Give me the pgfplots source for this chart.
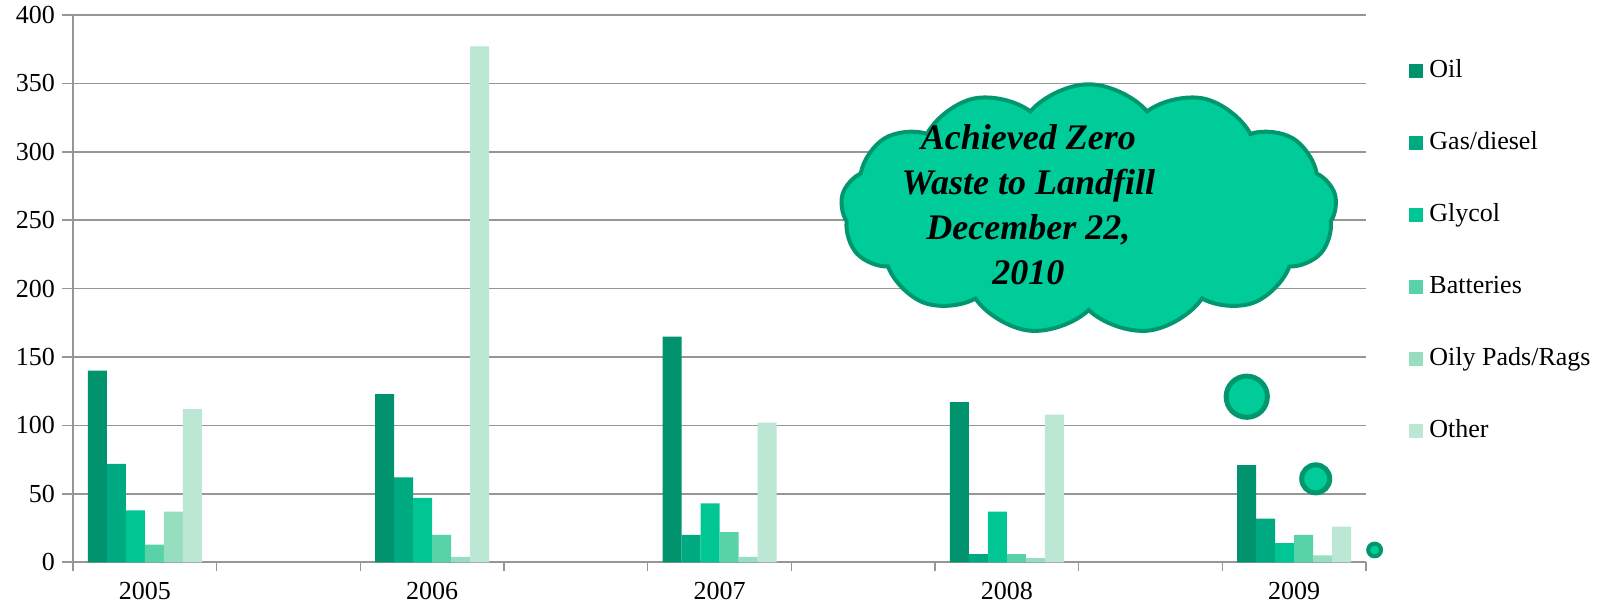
\documentclass[border=0pt]{standalone}
\usepackage{fontspec}
\setmainfont{Liberation Serif}
\usepackage{pgfplots}
\pgfplotsset{compat=1.18}
\usetikzlibrary{shapes.symbols}
\definecolor{cOil}{RGB}{0,147,110}
\definecolor{cGas}{RGB}{0,170,128}
\definecolor{cGly}{RGB}{0,198,147}
\definecolor{cBat}{RGB}{87,211,167}
\definecolor{cOily}{RGB}{150,222,192}
\definecolor{cOther}{RGB}{187,231,212}
\definecolor{cloudFill}{RGB}{0,204,153}
\definecolor{cloudEdge}{RGB}{0,150,110}
\definecolor{gridgray}{RGB}{150,150,150}
\begin{document}
\begin{tikzpicture}
\begin{axis}[
  at={(0,0)}, anchor=south west,
  scale only axis, width=646.5pt, height=273.65pt,
  xmin=-0.5, xmax=8.5, ymin=0, ymax=400,
  ytick={0,50,...,400},
  xtick={0,2,4,6,8},
  xticklabels={2005,2006,2007,2008,2009},
  minor xtick={-0.5,0.5,...,8.5},
  major x tick style={draw=none},
  minor x tick style={draw=gridgray, line width=0.8pt},
  minor tick length=4.5pt,
  xticklabel style={yshift=-0.7pt},
  axis x line*=bottom, axis y line*=left,
  axis line style={draw=gridgray, line width=0.8pt, -},
  ymajorgrids, grid style={draw=gridgray, line width=0.8pt},
  tick style={draw=gridgray, line width=0.8pt},
  tick align=outside, major tick length=5.5pt,
  /pgf/number format/assume math mode=true,
  ticklabel style={font=\rmfamily\fontsize{13}{15}\selectfont},
  ybar, bar width=9.5pt,
  clip=false,
  legend cell align=left,
  legend image code/.code={\fill[#1, draw=none] (0pt,-3.5pt) rectangle (7pt,3.5pt);},
  legend style={at={(1.0333,0.92)}, anchor=north west, draw=none, fill=none,
    font=\rmfamily\fontsize{13}{15}\selectfont, row sep=24pt, column sep=3pt, inner sep=0pt,
    nodes={inner sep=0pt, text height=9pt, text depth=3pt}},
]
\addplot[fill=cOil, draw=none, bar shift=-23.75pt] coordinates {(0,140) (2,123) (4,165) (6,117) (8,71)};
\addlegendentry{Oil}
\addplot[fill=cGas, draw=none, bar shift=-14.25pt] coordinates {(0,72) (2,62) (4,20) (6,6) (8,32)};
\addlegendentry{Gas/diesel}
\addplot[fill=cGly, draw=none, bar shift=-4.75pt] coordinates {(0,38) (2,47) (4,43) (6,37) (8,14)};
\addlegendentry{Glycol}
\addplot[fill=cBat, draw=none, bar shift=4.75pt] coordinates {(0,13) (2,20) (4,22) (6,6) (8,20)};
\addlegendentry{Batteries}
\addplot[fill=cOily, draw=none, bar shift=14.25pt] coordinates {(0,37) (2,4) (4,4) (6,3) (8,5)};
\addlegendentry{Oily Pads/Rags}
\addplot[fill=cOther, draw=none, bar shift=23.75pt] coordinates {(0,112) (2,377) (4,102) (6,108) (8,26)};
\addlegendentry{Other}
% callout decoration
\node[cloud, cloud puffs=13, cloud puff arc=100, aspect=2, draw=cloudEdge, fill=cloudFill, line width=2pt,
      minimum width=248pt, minimum height=125pt, inner sep=0pt] at (axis cs:6.57,258) {};
\node[font=\bfseries\itshape\fontsize{18}{22.5}\selectfont, align=center] at (axis cs:6.15,261)
  {Achieved Zero\\Waste to Landfill\\December 22,\\2010};
\draw[draw=cloudEdge, fill=cloudFill, line width=2.5pt] (axis cs:7.67,121) circle[radius=10.3pt];
\draw[draw=cloudEdge, fill=cloudFill, line width=2.5pt] (axis cs:8.15,61) circle[radius=7pt];
\draw[draw=cloudEdge, fill=cloudFill, line width=2pt] (axis cs:8.56,9) circle[radius=3.2pt];
\end{axis}
\pgfresetboundingbox
\path (-36.5pt,-22.85pt) rectangle (768pt,281.15pt);
\end{tikzpicture}
\end{document}
